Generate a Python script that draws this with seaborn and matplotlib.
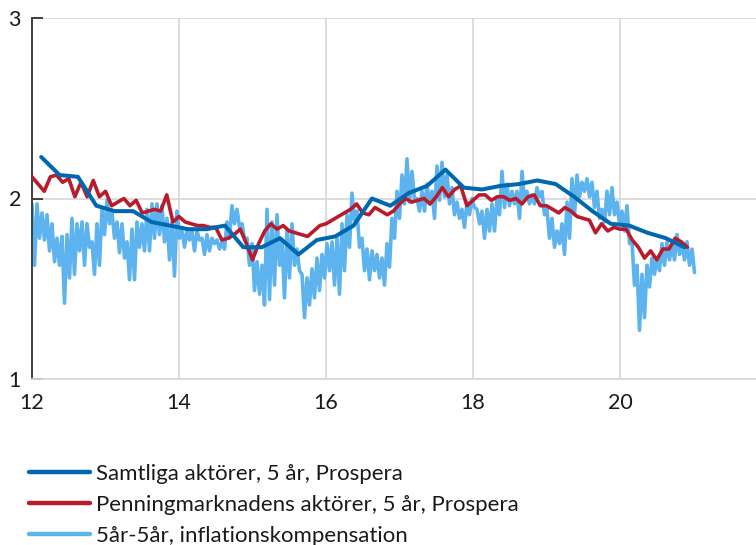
import numpy as np
import matplotlib
matplotlib.use("Agg")
import matplotlib.pyplot as plt
from matplotlib.lines import Line2D
import seaborn as sns

# ---------------- data ----------------
labels = ["Samtliga aktörer, 5 år, Prospera",
          "Penningmarknadens aktörer, 5 år, Prospera",
          "5år-5år, inflationskompensation"]
x_ticks = [12, 14, 16, 18, 20]
y_ticks = [1, 2, 3]

# quarterly survey, all participants (start Q1 2012)
samtliga = [2.23, 2.13, 2.12, 1.96, 1.93, 1.93, 1.87, 1.85, 1.83, 1.83,
            1.85, 1.73, 1.73, 1.78, 1.69, 1.77, 1.79, 1.85, 2.00, 1.96,
            2.03, 2.07, 2.16, 2.06, 2.05, 2.07, 2.08, 2.10, 2.08, 2.01,
            1.93, 1.86, 1.85, 1.81, 1.78, 1.73]

# monthly survey, money-market participants (Jan 2012 - Dec 2020)
penning = [2.12, 2.08, 2.04, 2.12, 2.13, 2.09, 2.11, 2.01, 2.09, 2.01,
           2.10, 2.01, 2.04, 1.96, 1.98, 2.00, 1.96, 1.99, 1.92, 1.93,
           1.94, 1.93, 2.02, 1.87, 1.90, 1.87, 1.86, 1.85, 1.85, 1.84,
           1.84, 1.77, 1.78, 1.80, 1.83, 1.75, 1.66, 1.75, 1.82, 1.86,
           1.83, 1.85, 1.82, 1.81, 1.80, 1.79, 1.82, 1.85, 1.86, 1.88,
           1.90, 1.92, 1.94, 1.97, 1.92, 1.91, 1.95, 1.93, 1.91, 1.93,
           1.97, 2.00, 1.98, 1.99, 2.00, 1.97, 2.01, 2.06, 2.01, 2.05,
           2.07, 1.96, 1.99, 2.02, 2.02, 1.99, 2.01, 2.01, 1.99, 2.00,
           1.97, 2.01, 2.02, 1.96, 1.96, 1.94, 1.92, 1.95, 1.93, 1.90,
           1.89, 1.88, 1.81, 1.86, 1.82, 1.84, 1.83, 1.83, 1.77, 1.73,
           1.67, 1.71, 1.66, 1.72, 1.72, 1.78, 1.76, 1.73]

# 5y5y break-even inflation, alternating local highs / lows (~12-day steps)
ik_hi = [1.97, 1.97, 1.92, 1.91, 1.86, 1.78, 1.79, 1.80, 1.89, 1.86,
         1.87, 1.86, 1.76, 1.86, 1.94, 1.99, 1.92, 1.87, 1.86, 1.76,
         1.83, 1.87, 1.86, 1.94, 1.97, 1.97, 1.96, 1.89, 1.87, 1.93,
         1.82, 1.83, 1.82, 1.82, 1.78, 1.80, 1.78, 1.77, 1.76, 1.87,
         1.96, 1.94, 1.86, 1.78, 1.75, 1.65, 1.63, 1.94, 1.87, 1.91,
         1.76, 1.83, 1.86, 1.72, 1.58, 1.56, 1.61, 1.67, 1.69, 1.75,
         1.76, 1.78, 1.86, 1.91, 2.03, 1.93, 1.78, 1.72, 1.71, 1.69,
         1.67, 1.75, 1.89, 2.04, 2.13, 2.22, 2.15, 2.00, 2.04, 2.08,
         2.04, 2.18, 2.20, 2.13, 2.06, 1.98, 1.94, 1.98, 2.00, 1.94,
         1.93, 1.94, 1.97, 2.00, 2.15, 2.08, 2.04, 2.04, 2.15, 2.04,
         2.02, 2.06, 2.04, 1.94, 1.89, 1.82, 1.86, 1.98, 2.11, 2.13,
         2.09, 2.11, 2.09, 2.04, 1.94, 2.04, 2.06, 1.98, 1.93, 1.96,
         1.76, 1.63, 1.58, 1.63, 1.67, 1.67, 1.75, 1.76, 1.75, 1.80,
         1.75, 1.76, 1.72]
ik_lo = [1.63, 1.78, 1.77, 1.71, 1.65, 1.63, 1.42, 1.56, 1.58, 1.71,
         1.63, 1.73, 1.58, 1.63, 1.80, 1.86, 1.78, 1.70, 1.67, 1.55,
         1.55, 1.73, 1.71, 1.71, 1.78, 1.80, 1.76, 1.66, 1.57, 1.78,
         1.73, 1.77, 1.71, 1.77, 1.69, 1.71, 1.75, 1.72, 1.72, 1.78,
         1.86, 1.84, 1.78, 1.63, 1.49, 1.47, 1.41, 1.44, 1.52, 1.63,
         1.45, 1.56, 1.63, 1.60, 1.34, 1.41, 1.45, 1.49, 1.56, 1.60,
         1.52, 1.47, 1.60, 1.73, 1.88, 1.73, 1.60, 1.55, 1.60, 1.56,
         1.52, 1.62, 1.78, 1.89, 1.97, 1.98, 1.99, 1.93, 1.93, 1.97,
         1.89, 1.99, 2.01, 1.97, 1.91, 1.89, 1.84, 1.91, 1.95, 1.86,
         1.78, 1.82, 1.82, 1.91, 1.95, 1.96, 1.97, 1.89, 1.99, 1.97,
         1.97, 2.01, 1.91, 1.78, 1.73, 1.75, 1.69, 1.78, 1.91, 2.01,
         2.04, 2.01, 1.95, 1.89, 1.87, 1.91, 1.91, 1.86, 1.82, 1.75,
         1.52, 1.27, 1.34, 1.51, 1.58, 1.60, 1.63, 1.66, 1.66, 1.69,
         1.66, 1.63, 1.59]

# time axes (decimal years, 12 = 2012)
t_samtliga = 12.125 + np.arange(len(samtliga)) * 0.25
t_penning = 12.0 + np.arange(len(penning)) / 12.0
ik = np.column_stack([ik_hi, ik_lo]).ravel()
t_ik = 12.0 + np.arange(len(ik)) / 29.4

# ---------------- style ----------------
sns.set_style("white")
plt.rcParams["font.family"] = ["Lato", "DejaVu Sans"]

c_blue = "#0068B0"
c_red = "#B81C2C"
c_light = "#5DB3EE"
c_grid = "#D9D9D9"

W, H = 756, 545
fig = plt.figure(figsize=(W / 100, H / 100), dpi=100)
ax = fig.add_axes([32 / W, 1 - 379 / H, (767 - 32) / W, (379 - 18) / H])

sns.lineplot(x=t_ik, y=ik, ax=ax, color=c_light, linewidth=2.6,
             estimator=None, sort=False, legend=False, zorder=2)
sns.lineplot(x=t_penning, y=penning, ax=ax, color=c_red, linewidth=2.6,
             estimator=None, sort=False, legend=False, zorder=3)
sns.lineplot(x=t_samtliga, y=samtliga, ax=ax, color=c_blue, linewidth=2.9,
             estimator=None, sort=False, legend=False, zorder=4)

ax.set_xlim(12, 22)
ax.set_ylim(1, 3)
ax.set_xticks(x_ticks)
ax.set_xticklabels([str(v) for v in x_ticks])
ax.set_yticks(y_ticks)
ax.set_yticklabels([str(v) for v in y_ticks])
ax.set_xlabel("")
ax.set_ylabel("")

ax.grid(True, color=c_grid, linewidth=1.3)
ax.set_axisbelow(True)

for s in ["top", "right"]:
    ax.spines[s].set_visible(False)
ax.spines["left"].set_color("#404040")
ax.spines["left"].set_linewidth(1.4)
ax.spines["bottom"].set_color(c_grid)
ax.spines["bottom"].set_linewidth(1.3)

ax.tick_params(axis="y", direction="in", length=8, width=1.4, color="#404040",
               left=True, right=True, labelsize=15.5, pad=8, labelcolor="#1a1a1a")
ax.tick_params(axis="x", length=0, labelsize=15.5, pad=10, labelcolor="#1a1a1a")

handles = [Line2D([], [], color=c, linewidth=3.2) for c in (c_blue, c_red, c_light)]
fig.legend(handles, labels, loc="upper left",
           bbox_to_anchor=(29 / W, 1 - 464 / H), frameon=False,
           fontsize=16, handlelength=2.75, handletextpad=0.27,
           labelspacing=0.5, borderpad=0, borderaxespad=0,
           labelcolor="#1a1a1a")

fig.savefig("out.png", dpi=100)
